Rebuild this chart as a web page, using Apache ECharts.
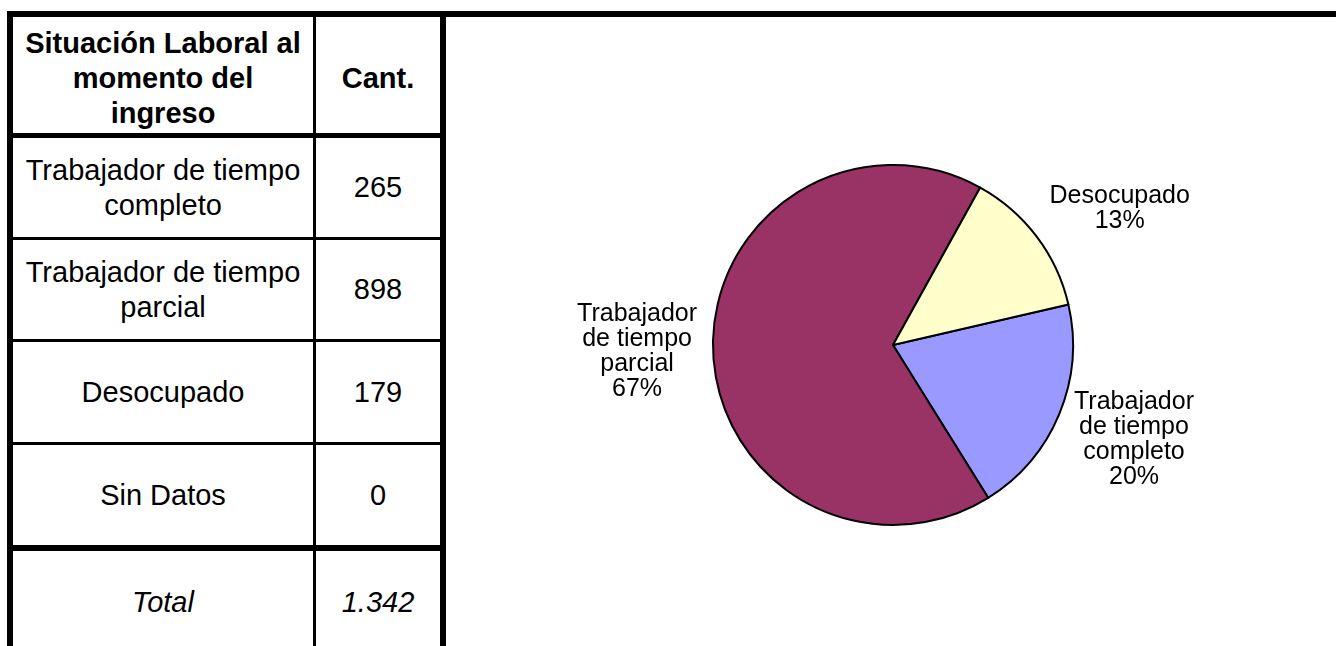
<!DOCTYPE html>
<html>
<head>
<meta charset="utf-8">
<script src="https://cdn.jsdelivr.net/npm/echarts@6/dist/echarts.min.js"></script>
<style>
    html, body { margin: 0; padding: 0; background: #fff; width: 1336px; height: 646px; overflow: hidden; }
    body { position: relative; font-family: "Liberation Sans", Arial, sans-serif; color: #000; }
    #topLine { position: absolute; left: 7px; top: 11px; width: 1329px; height: 6px; background: #000; }
    #tabla { position: absolute; left: 7px; top: 11px; border-collapse: separate; border-spacing: 0;
             border-top: 6px solid #000; border-left: 6px solid #000; border-right: 6px solid #000; }
    #tabla td { padding: 0; text-align: center; vertical-align: middle; font-size: 29px; line-height: 35px;
                white-space: pre-line; border-bottom: 3px solid #000; }
    #tabla td.c1 { width: 300px; border-right: 3px solid #000; }
    #tabla td.c2 { width: 124px; }
    #tabla tr.head td { font-weight: bold; border-bottom-width: 5px; padding-top: 6px; }
    #tabla tr.last td { border-bottom-width: 6px; }
    #tabla tr.total td { font-style: italic; border-bottom: none; }
    #chart { position: absolute; left: 446px; top: 17px; width: 890px; height: 629px; }
</style>
</head>
<body>
<div id="topLine"></div>
<table id="tabla"></table>
<div id="chart"></div>
<script>
// Datos de la tabla y del gráfico
const headers = ['Situación Laboral al\nmomento del\ningreso', 'Cant.'];
const rowLabels = ['Trabajador de tiempo\ncompleto', 'Trabajador de tiempo\nparcial', 'Desocupado', 'Sin Datos'];
const counts = [265, 898, 179, 0];
const totalLabel = 'Total';
const totalValue = '1.342';
const pieNames = ['Trabajador\nde tiempo\ncompleto', 'Trabajador\nde tiempo\nparcial', 'Desocupado', 'Sin Datos'];
const pieColors = ['#9999FF', '#993366', '#FFFFCC', '#FFFFFF'];

// alturas de filas (contenido)
const rowHeights = [99, 99, 100, 100];

// armar la tabla
function buildTable() {
    const tabla = document.getElementById('tabla');
    let html = '<tr class="head"><td class="c1" style="height:110px">' + headers[0] +
        '</td><td class="c2">' + headers[1] + '</td></tr>';
    rowLabels.forEach((label, i) => {
        const cls = i === rowLabels.length - 1 ? ' class="last"' : '';
        html += '<tr' + cls + '><td class="c1" style="height:' + rowHeights[i] + 'px">' + label +
            '</td><td class="c2">' + counts[i] + '</td></tr>';
    });
    html += '<tr class="total"><td class="c1" style="height:102px">' + totalLabel +
        '</td><td class="c2">' + totalValue + '</td></tr>';
    tabla.innerHTML = html;
}

// gráfico de torta
const PIE_CX = 447;
const PIE_CY = 328;

function initChart() {
    const chart = echarts.init(document.getElementById('chart'), null, { renderer: 'canvas' });
    const data = [];
    counts.forEach((v, i) => {
        if (v > 0) {
            data.push({ name: pieNames[i], value: v, itemStyle: { color: pieColors[i] } });
        }
    });

    chart.setOption({
        animation: false,
        series: [{
            type: 'pie',
            center: [PIE_CX, PIE_CY],
            radius: 180,
            startAngle: 13,
            clockwise: true,
            avoidLabelOverlap: false,
            data: data,
            itemStyle: { borderColor: '#000', borderWidth: 2 },
            label: {
                show: true,
                position: 'outside',
                color: '#000',
                fontFamily: '"Liberation Sans", Arial, sans-serif',
                fontSize: 25,
                lineHeight: 25,
                distanceToLabelLine: 0,
                formatter: p => p.name + '\n' + Math.round(p.percent) + '%'
            },
            labelLine: { show: true, length: 16, length2: 0, lineStyle: { opacity: 0 } },
            // centrar el texto y alejarlo según la dirección del sector
            labelLayout: function (p) {
                const r = p.labelRect;
                const cx = r.x + r.width / 2;
                const cy = r.y + r.height / 2;
                const dx = cx - PIE_CX;
                const dy = cy - PIE_CY;
                const len = Math.sqrt(dx * dx + dy * dy) || 1;
                return { x: cx, y: cy + dy / len * (r.height / 2 + 15), align: 'center', verticalAlign: 'middle' };
            },
            emphasis: { disabled: true }
        }]
    });
}

document.addEventListener('DOMContentLoaded', () => {
    buildTable();
    initChart();
});
</script>
</body>
</html>
